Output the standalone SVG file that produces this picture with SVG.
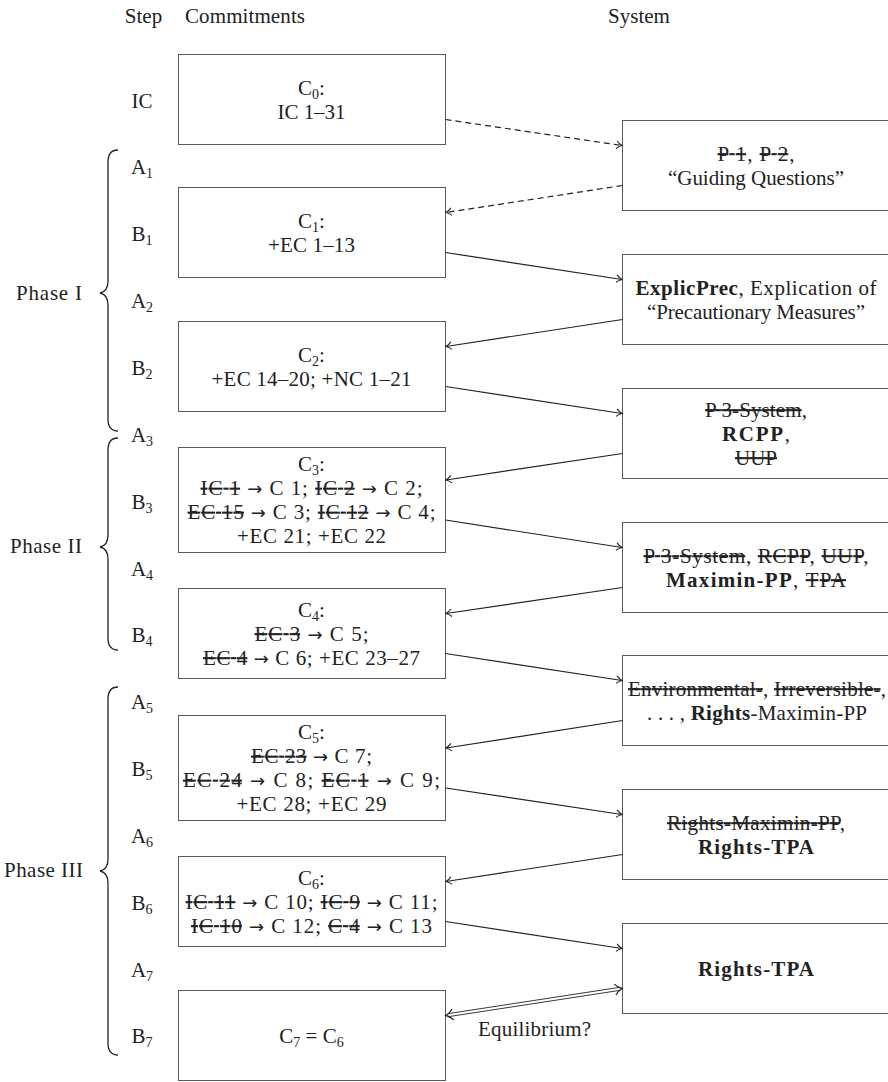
<svg xmlns="http://www.w3.org/2000/svg" width="888" height="1082" viewBox="0 0 888 1082">
  <style>
    text { font-family: "Liberation Serif", "Times New Roman", serif; font-size: 21px; fill: #222; }
    .c { text-anchor: middle; }
    .e { text-anchor: end; }
    .s { text-decoration: line-through; }
    .b { font-weight: bold; }
    .ar { font-family: "DejaVu Sans", sans-serif; font-size: 18px; }
    .box { fill: #fff; stroke: #5a5a5a; stroke-width: 1; }
    .conn { fill: none; stroke: #222; stroke-width: 1.2; }
    .dash { stroke-dasharray: 6 4; }
    .brace { fill: none; stroke: #222; stroke-width: 1.3; }
    .sub { font-size: 14px; }
  </style>
  <defs>
    <marker id="to" viewBox="-8 -6 10 12" refX="0" refY="0" markerWidth="10" markerHeight="12" orient="auto" markerUnits="userSpaceOnUse">
      <path d="M-5.5,-3.8 C-3.5,-1.6 -1,-0.4 0,0 C-1,0.4 -3.5,1.6 -5.5,3.8" fill="none" stroke="#222" stroke-width="1.1" stroke-dasharray="none"/>
    </marker>
  </defs>

  <!-- column headings -->
  <g id="headings">
    <text class="c" x="143.5" y="23">Step</text>
    <text x="185" y="23" textLength="120" lengthAdjust="spacing">Commitments</text>
    <text class="c" x="639" y="23">System</text>
  </g>

  <!-- step labels -->
  <g id="steps">
    <text class="c" x="142" y="107.5">IC</text>
    <text class="c" x="142" y="174.4">A<tspan class="sub" dy="4">1</tspan></text>
    <text class="c" x="142" y="241.2">B<tspan class="sub" dy="4">1</tspan></text>
    <text class="c" x="142" y="308.1">A<tspan class="sub" dy="4">2</tspan></text>
    <text class="c" x="142" y="374.9">B<tspan class="sub" dy="4">2</tspan></text>
    <text class="c" x="142" y="441.8">A<tspan class="sub" dy="4">3</tspan></text>
    <text class="c" x="142" y="508.6">B<tspan class="sub" dy="4">3</tspan></text>
    <text class="c" x="142" y="575.5">A<tspan class="sub" dy="4">4</tspan></text>
    <text class="c" x="142" y="642.3">B<tspan class="sub" dy="4">4</tspan></text>
    <text class="c" x="142" y="709.2">A<tspan class="sub" dy="4">5</tspan></text>
    <text class="c" x="142" y="776">B<tspan class="sub" dy="4">5</tspan></text>
    <text class="c" x="142" y="842.9">A<tspan class="sub" dy="4">6</tspan></text>
    <text class="c" x="142" y="909.7">B<tspan class="sub" dy="4">6</tspan></text>
    <text class="c" x="142" y="976.6">A<tspan class="sub" dy="4">7</tspan></text>
    <text class="c" x="142" y="1043.4">B<tspan class="sub" dy="4">7</tspan></text>
  </g>

  <!-- phase braces -->
  <g id="phases">
    <path class="brace" d="M118,150 C111,150 108,154 108,162 L108,281 C108,288 105,292 100,293 C105,294 108,298 108,305 L108,419 C108,427 111,431 118,431"/>
    <text class="e" x="82" y="299.5" textLength="66" lengthAdjust="spacing">Phase I</text>
    <path class="brace" d="M118,438 C111,438 108,442 108,450 L108,535 C108,542 105,546 100,547 C105,548 108,552 108,559 L108,638 C108,646 111,650 118,650"/>
    <text class="e" x="82" y="553" textLength="72" lengthAdjust="spacing">Phase II</text>
    <path class="brace" d="M118,687 C111,687 108,691 108,699 L108,859 C108,866 105,870 100,871 C105,872 108,876 108,883 L108,1043 C108,1051 111,1055 118,1055"/>
    <text class="e" x="83" y="877" textLength="79" lengthAdjust="spacing">Phase III</text>
  </g>

  <!-- commitment states -->
  <g id="c0">
    <rect class="box" x="178.5" y="54.5" width="267" height="90"/>
    <text class="c" x="311.5" y="94.5">C<tspan class="sub" dy="4">0</tspan><tspan dy="-4">:</tspan></text>
    <text class="c" x="311.5" y="118.5" textLength="68" lengthAdjust="spacing">IC 1–31</text>
  </g>
  <g id="c1">
    <rect class="box" x="178.5" y="187.5" width="267" height="90"/>
    <text class="c" x="311.5" y="227.5">C<tspan class="sub" dy="4">1</tspan><tspan dy="-4">:</tspan></text>
    <text class="c" x="311.5" y="251.5" textLength="87" lengthAdjust="spacing">+EC 1–13</text>
  </g>
  <g id="c2">
    <rect class="box" x="178.5" y="321.5" width="267" height="90"/>
    <text class="c" x="311.5" y="361.5">C<tspan class="sub" dy="4">2</tspan><tspan dy="-4">:</tspan></text>
    <text class="c" x="311.5" y="385.5" textLength="200" lengthAdjust="spacing">+EC 14–20; +NC 1–21</text>
  </g>
  <g id="c3">
    <rect class="box" x="178.5" y="447.5" width="267" height="105"/>
    <text class="c" x="311.5" y="471">C<tspan class="sub" dy="4">3</tspan><tspan dy="-4">:</tspan></text>
    <text class="c" x="311.5" y="495" textLength="222" lengthAdjust="spacing"><tspan class="s">IC 1</tspan> <tspan class="ar">→</tspan> C 1; <tspan class="s">IC 2</tspan> <tspan class="ar">→</tspan> C 2;</text>
    <text class="c" x="311.5" y="519" textLength="248" lengthAdjust="spacing"><tspan class="s">EC 15</tspan> <tspan class="ar">→</tspan> C 3; <tspan class="s">IC 12</tspan> <tspan class="ar">→</tspan> C 4;</text>
    <text class="c" x="311.5" y="543" textLength="149" lengthAdjust="spacing">+EC 21; +EC 22</text>
  </g>
  <g id="c4">
    <rect class="box" x="178.5" y="588.5" width="267" height="90"/>
    <text class="c" x="311.5" y="616.5">C<tspan class="sub" dy="4">4</tspan><tspan dy="-4">:</tspan></text>
    <text class="c" x="311.5" y="640.5" textLength="114" lengthAdjust="spacing"><tspan class="s">EC 3</tspan> <tspan class="ar">→</tspan> C 5;</text>
    <text class="c" x="311.5" y="664.5" textLength="217" lengthAdjust="spacing"><tspan class="s">EC 4</tspan> <tspan class="ar">→</tspan> C 6; +EC 23–27</text>
  </g>
  <g id="c5">
    <rect class="box" x="178.5" y="715.5" width="267" height="105"/>
    <text class="c" x="311.5" y="739">C<tspan class="sub" dy="4">5</tspan><tspan dy="-4">:</tspan></text>
    <text class="c" x="311.5" y="763" textLength="121" lengthAdjust="spacing"><tspan class="s">EC 23</tspan> <tspan class="ar">→</tspan> C 7;</text>
    <text class="c" x="311.5" y="787" textLength="257" lengthAdjust="spacing"><tspan class="s">EC 24</tspan> <tspan class="ar">→</tspan> C 8; <tspan class="s">EC 1</tspan> <tspan class="ar">→</tspan> C 9;</text>
    <text class="c" x="311.5" y="811" textLength="150" lengthAdjust="spacing">+EC 28; +EC 29</text>
  </g>
  <g id="c6">
    <rect class="box" x="178.5" y="856.5" width="267" height="90"/>
    <text class="c" x="311.5" y="884.5">C<tspan class="sub" dy="4">6</tspan><tspan dy="-4">:</tspan></text>
    <text class="c" x="311.5" y="908.5" textLength="252" lengthAdjust="spacing"><tspan class="s">IC 11</tspan> <tspan class="ar">→</tspan> C 10; <tspan class="s">IC 9</tspan> <tspan class="ar">→</tspan> C 11;</text>
    <text class="c" x="311.5" y="932.5" textLength="241" lengthAdjust="spacing"><tspan class="s">IC 10</tspan> <tspan class="ar">→</tspan> C 12; <tspan class="s">C 4</tspan> <tspan class="ar">→</tspan> C 13</text>
  </g>
  <g id="c7">
    <rect class="box" x="178.5" y="990.5" width="267" height="90"/>
    <text class="c" x="311.5" y="1042.5">C<tspan class="sub" dy="4">7</tspan><tspan dy="-4"> = C</tspan><tspan class="sub" dy="4">6</tspan></text>
  </g>

  <!-- principle systems -->
  <g id="s0">
    <rect class="box" x="622.5" y="120.5" width="268" height="90"/>
    <text class="c" x="756" y="160.5" textLength="77" lengthAdjust="spacing"><tspan class="s">P 1</tspan>, <tspan class="s">P 2</tspan>,</text>
    <text class="c" x="756" y="184.5" textLength="176" lengthAdjust="spacing">“Guiding Questions”</text>
  </g>
  <g id="s1">
    <rect class="box" x="622.5" y="254.5" width="268" height="90"/>
    <text class="c" x="756" y="294.5" textLength="241" lengthAdjust="spacing"><tspan class="b">ExplicPrec</tspan>, Explication of</text>
    <text class="c" x="756" y="318.5" textLength="218" lengthAdjust="spacing">“Precautionary Measures”</text>
  </g>
  <g id="s2">
    <rect class="box" x="622.5" y="388.5" width="268" height="90"/>
    <text class="c" x="756" y="416.5" textLength="102" lengthAdjust="spacing"><tspan class="s">P 3-System</tspan>,</text>
    <text class="c" x="756" y="440.5" textLength="68" lengthAdjust="spacing"><tspan class="b">RCPP</tspan>,</text>
    <text class="c" x="756" y="464.5"><tspan class="s">UUP</tspan></text>
  </g>
  <g id="s3">
    <rect class="box" x="622.5" y="522.5" width="268" height="90"/>
    <text class="c" x="756" y="562.5" textLength="225" lengthAdjust="spacing"><tspan class="s">P 3-System</tspan>, <tspan class="s">RCPP</tspan>, <tspan class="s">UUP</tspan>,</text>
    <text class="c" x="756" y="586.5" textLength="180" lengthAdjust="spacing"><tspan class="b">Maximin-PP</tspan>, <tspan class="s">TPA</tspan></text>
  </g>
  <g id="s4">
    <rect class="box" x="622.5" y="655.5" width="268" height="90"/>
    <text class="c" x="757" y="695.5" textLength="258" lengthAdjust="spacing"><tspan class="s">Environmental-</tspan>, <tspan class="s">Irreversible-</tspan>,</text>
    <text class="c" x="757" y="719.5" textLength="220" lengthAdjust="spacing">. . . , <tspan class="b">Rights</tspan>-Maximin-PP</text>
  </g>
  <g id="s5">
    <rect class="box" x="622.5" y="789.5" width="268" height="90"/>
    <text class="c" x="756" y="829.5" textLength="178" lengthAdjust="spacing"><tspan class="s">Rights-Maximin-PP</tspan>,</text>
    <text class="c" x="756" y="853.5" textLength="116" lengthAdjust="spacing"><tspan class="b">Rights-TPA</tspan></text>
  </g>
  <g id="s6">
    <rect class="box" x="622.5" y="923.5" width="268" height="90"/>
    <text class="c" x="756" y="975.5" textLength="116" lengthAdjust="spacing"><tspan class="b">Rights-TPA</tspan></text>
  </g>

  <!-- connectors -->
  <g id="connectors">
    <path class="conn dash" d="M445.5,119.5 L622,145.5" marker-end="url(#to)"/>
    <path class="conn dash" d="M622.5,185.5 L446,212.5" marker-end="url(#to)"/>
    <path class="conn" d="M445.5,252.5 L622,279.5" marker-end="url(#to)"/>
    <path class="conn" d="M622.5,319.5 L446,346.5" marker-end="url(#to)"/>
    <path class="conn" d="M445.5,386.5 L622,413.5" marker-end="url(#to)"/>
    <path class="conn" d="M622.5,453.5 L446,480" marker-end="url(#to)"/>
    <path class="conn" d="M445.5,520 L622,547.5" marker-end="url(#to)"/>
    <path class="conn" d="M622.5,587.5 L446,613.5" marker-end="url(#to)"/>
    <path class="conn" d="M445.5,653.5 L622,680.5" marker-end="url(#to)"/>
    <path class="conn" d="M622.5,720.5 L446,748" marker-end="url(#to)"/>
    <path class="conn" d="M445.5,788 L622,814.5" marker-end="url(#to)"/>
    <path class="conn" d="M622.5,854.5 L446,881.5" marker-end="url(#to)"/>
    <path class="conn" d="M445.5,921.5 L622,948.5" marker-end="url(#to)"/>
    <!-- double-lined two-way arrow -->
    <g id="equilibrium">
      <path fill="none" stroke="#222" stroke-width="0.9" d="M448.2,1016.7 L620.25,990.3 M447.75,1013.7 L619.8,987.3"/>
      <path fill="none" stroke="#222" stroke-width="1.3" d="M-7,-5.5 C-4.5,-2.5 -1.5,-0.6 0,0 C-1.5,0.6 -4.5,2.5 -7,5.5" transform="translate(622,988.5) rotate(-8.72)"/>
      <path fill="none" stroke="#222" stroke-width="1.3" d="M-7,-5.5 C-4.5,-2.5 -1.5,-0.6 0,0 C-1.5,0.6 -4.5,2.5 -7,5.5" transform="translate(446,1015.5) rotate(171.28)"/>
      <text class="c" x="534.5" y="1036" textLength="113" lengthAdjust="spacing">Equilibrium?</text>
    </g>
  </g>
</svg>
